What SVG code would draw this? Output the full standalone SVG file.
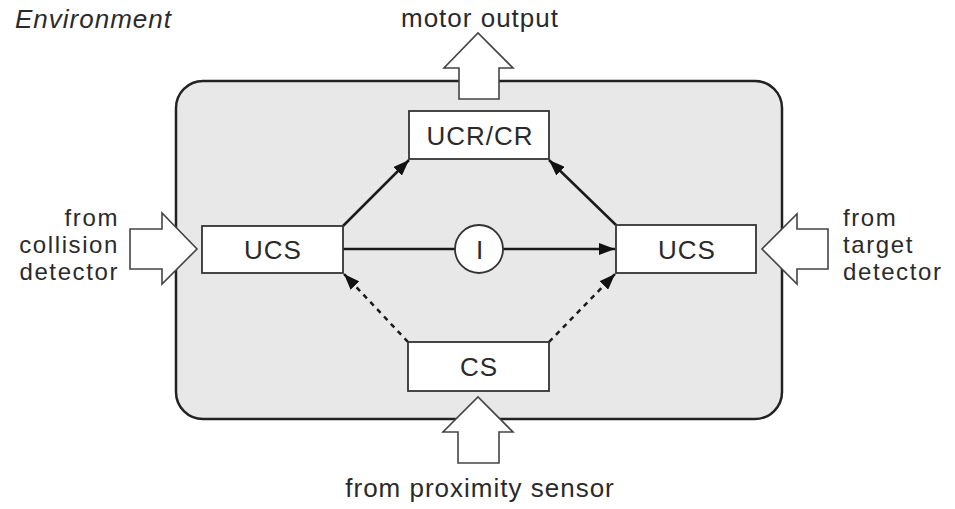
<svg xmlns="http://www.w3.org/2000/svg" width="955" height="509" viewBox="0 0 955 509">
<defs>
<style>
.lbl{font-family:"Liberation Sans",Arial,Helvetica,sans-serif;font-size:26px;letter-spacing:1px;fill:#2a2a2a}
.stk{font-family:"Liberation Sans",Arial,Helvetica,sans-serif;font-size:24px;letter-spacing:1.6px;fill:#2a2a2a}
.box{fill:#fff;stroke:#333;stroke-width:1.8}
.blk{fill:#fff;stroke:#444;stroke-width:1.6;stroke-linejoin:miter}
.con{fill:none;stroke:#1a1a1a;stroke-width:2.5}
.dash{stroke-dasharray:5 5}
</style>
<marker id="ah" viewBox="0 0 16 12" refX="16" refY="6" markerWidth="16" markerHeight="12" markerUnits="userSpaceOnUse" orient="auto">
<path d="M0,0 L16,6 L0,12 Z" fill="#111"/>
</marker>
</defs>
<rect width="955" height="509" fill="#fff"/>
<text class="lbl" x="15" y="28" font-style="italic">Environment</text>
<g id="environment-box">
<rect x="176" y="81" width="606" height="338" rx="27" ry="27" fill="#e8e8e8" stroke="#222" stroke-width="2.5"/>
</g>
<g id="motor-output">
<polygon class="blk" points="459,99 459,68 444,68 478,33 513,68 499,68 499,99"/>
<text class="lbl" x="480" y="27" text-anchor="middle">motor output</text>
</g>
<g id="collision-input">
<polygon class="blk" points="130,229 162,229 162,213 197,249 162,284 162,269 130,269"/>
<text class="stk" x="119" y="226" text-anchor="end">from</text>
<text class="stk" x="119" y="253" text-anchor="end">collision</text>
<text class="stk" x="119" y="280" text-anchor="end">detector</text>
</g>
<g id="target-input">
<polygon class="blk" points="828,229 797,229 797,214 762,249 797,284 797,269 828,269"/>
<text class="stk" x="843" y="226">from</text>
<text class="stk" x="843" y="253">target</text>
<text class="stk" x="843" y="280">detector</text>
</g>
<g id="proximity-input">
<polygon class="blk" points="458,463 458,432 443,432 478,397 513,432 499,432 499,463"/>
<text class="lbl" x="480" y="497" text-anchor="middle">from proximity sensor</text>
</g>
<g id="connectors">
<line class="con" x1="343" y1="226" x2="409" y2="160" marker-end="url(#ah)"/>
<line class="con" x1="616" y1="225" x2="549" y2="160" marker-end="url(#ah)"/>
<line class="con" x1="343" y1="249" x2="455" y2="249"/>
<line class="con" x1="503" y1="249" x2="615" y2="249" marker-end="url(#ah)"/>
<line class="con dash" x1="408" y1="342" x2="344" y2="274" marker-end="url(#ah)"/>
<line class="con dash" x1="549" y1="342" x2="615" y2="274" marker-end="url(#ah)"/>
</g>
<g id="ucr-cr">
<rect class="box" x="409" y="111" width="140" height="48"/>
<text class="lbl" x="480" y="145" text-anchor="middle">UCR/CR</text>
</g>
<g id="ucs-left">
<rect class="box" x="202" y="226" width="141" height="47"/>
<text class="lbl" x="273" y="259" text-anchor="middle">UCS</text>
</g>
<g id="ucs-right">
<rect class="box" x="616" y="225" width="140" height="48"/>
<text class="lbl" x="687" y="259" text-anchor="middle">UCS</text>
</g>
<g id="inhibitor">
<circle cx="479" cy="249" r="24" fill="#fff" stroke="#333" stroke-width="1.8"/>
<text class="lbl" x="480" y="259" text-anchor="middle">I</text>
</g>
<g id="cs">
<rect class="box" x="408" y="342" width="141" height="49"/>
<text class="lbl" x="479" y="376" text-anchor="middle">CS</text>
</g>
</svg>
